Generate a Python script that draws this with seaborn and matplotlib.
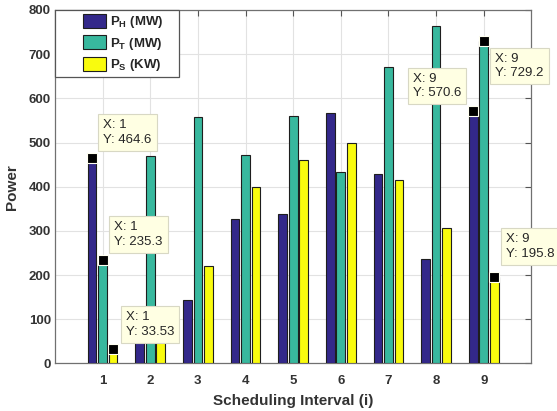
import matplotlib
matplotlib.use('Agg')
import matplotlib.pyplot as plt
import seaborn as sns
import pandas as pd
from matplotlib.patches import Rectangle, Patch
from matplotlib.legend_handler import HandlerPatch

# ---------------- data ----------------
intervals = ['1', '2', '3', '4', '5', '6', '7', '8', '9']
p_hydro = [464.6, 105, 144, 328, 339, 566, 429, 237, 570.6]
p_thermal = [235.3, 470, 557, 472, 561, 434, 672, 763, 729.2]
p_solar = [33.53, 90, 220, 400, 461, 499, 416, 307, 195.8]
series_keys = ['PH', 'PT', 'PS']
series_labels = [r'P$_{\mathbf{H}}$ (MW)', r'P$_{\mathbf{T}}$ (MW)', r'P$_{\mathbf{S}}$ (KW)']
series_colors = ['#33288a', '#38b89e', '#f9fb0e']
y_ticks = [0, 100, 200, 300, 400, 500, 600, 700, 800]
x_label = 'Scheduling Interval (i)'
y_label = 'Power'
# data tips: (series, interval)
tip_series = ['PH', 'PT', 'PS', 'PH', 'PT', 'PS']
tip_interval = ['1', '1', '1', '9', '9', '9']

# ---------------- style ----------------
sns.set_style('white')
plt.rcParams['font.family'] = ['Liberation Sans', 'DejaVu Sans']
plt.rcParams['mathtext.fontset'] = 'custom'
plt.rcParams['mathtext.rm'] = 'Liberation Sans'
plt.rcParams['mathtext.bf'] = 'Liberation Sans:bold'
plt.rcParams['mathtext.it'] = 'Liberation Sans:italic'

df = pd.DataFrame({
    'interval': intervals * 3,
    'series': [k for k in series_keys for _ in intervals],
    'value': p_hydro + p_thermal + p_solar,
})

fig = plt.figure(figsize=(5.57, 4.11), dpi=100)
ax = fig.add_axes([0.0987, 0.1156, 0.954 - 0.0987, 0.9757 - 0.1156])

sns.barplot(data=df, x='interval', y='value', hue='series', order=intervals,
            hue_order=series_keys, palette=series_colors, saturation=1,
            width=0.66, gap=0.17, errorbar=None, edgecolor='#1e1e1e',
            linewidth=0.8, legend=False, ax=ax, zorder=3)

ax.set_xlim(-1, len(intervals))
ax.set_ylim(y_ticks[0], y_ticks[-1])
ax.set_yticks(y_ticks)
ax.grid(True, color='#e2e2e2', lw=0.8)
ax.set_axisbelow(True)
for s in ax.spines.values():
    s.set_color('#707070')
    s.set_linewidth(0.9)
ax.tick_params(direction='in', length=4, width=0.8, color='#555555',
               top=True, right=True, labelsize=9.5, labelcolor='#333333')
ax.tick_params(axis='x', pad=8)
ax.tick_params(axis='y', pad=3)
for lbl in ax.get_xticklabels() + ax.get_yticklabels():
    lbl.set_fontweight('bold')
ax.set_xlabel(x_label, fontsize=11, fontweight='bold', color='#333333', labelpad=5)
ax.set_ylabel(y_label, fontsize=11, fontweight='bold', color='#333333', labelpad=7)

# ---------------- legend ----------------
fs_px = 9.5 / 72 * 100
left_gap = 17.0

def patch_func(legend, orig_handle, xdescent, ydescent, width, height, fontsize):
    return Rectangle((-xdescent + left_gap, -ydescent), width - left_gap, height)

handles = [Patch(facecolor=c, edgecolor='#1e1e1e', linewidth=0.8) for c in series_colors]
labels = [l + '    ' for l in series_labels]
leg = ax.legend(handles, labels, loc='upper left', bbox_to_anchor=(0, 1),
                borderaxespad=0, fancybox=False, framealpha=1, edgecolor='#555555',
                prop={'family': 'Liberation Sans', 'weight': 'bold', 'size': 9.5},
                handlelength=(left_gap + 30) / fs_px, handleheight=1.25,
                handletextpad=0.3, labelspacing=0.38, borderpad=0.3,
                handler_map={Patch: HandlerPatch(patch_func=patch_func)})
leg.get_frame().set_linewidth(0.9)
leg.set_zorder(10)

# ---------------- data tips ----------------
tip_offsets = [(6, 7, 'left', 'bottom'), (6.5, 7, 'left', 'bottom'), (7.5, 6, 'left', 'bottom'),
               (-7, 7, 'right', 'bottom'), (6.5, -6.5, 'left', 'top'), (7, 12, 'left', 'bottom')]
pad = 0.38
pad_px = pad * fs_px
for s, iv, (dx, dy, ha, va) in zip(tip_series, tip_interval, tip_offsets):
    si = series_keys.index(s)
    ci = intervals.index(iv)
    bar = ax.containers[si].patches[ci]
    x = bar.get_x() + bar.get_width() / 2
    y = bar.get_height()
    ax.plot([x], [y], 's', ms=6.8, mfc='black', mec='#fffff0', mew=0.8, zorder=6, clip_on=False)
    ox = dx + (pad_px if ha == 'left' else -pad_px)
    oy = dy + (pad_px if va == 'bottom' else -pad_px)
    ax.annotate(f'X: {iv}\nY: {y:.4g}', xy=(x, y), xytext=(ox, oy),
                textcoords='offset pixels', ha=ha, va=va, multialignment='left',
                fontsize=9.5, color='#262626', linespacing=1.3, zorder=7,
                annotation_clip=False,
                bbox=dict(boxstyle=f'square,pad={pad}', fc='#ffffe3', ec='#d8d8c4', lw=0.8))

fig.savefig('out.png', dpi=100)
